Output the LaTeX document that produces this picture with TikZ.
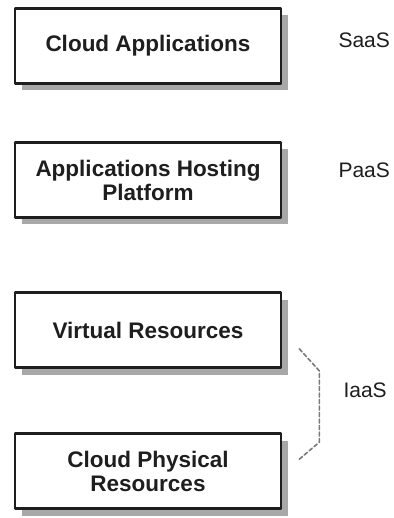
\documentclass[tikz,border=0pt]{standalone}
\usepackage{fontspec}
\setmainfont{Liberation Sans}
\usetikzlibrary{calc,positioning,shadows}
\definecolor{layerInk}{HTML}{1E1E1E}
\definecolor{layerShade}{HTML}{A8A8A8}
\definecolor{layerBrace}{HTML}{7A7A7A}

\begin{document}
\begin{tikzpicture}[x=1pt,y=-1pt,line cap=round,line join=round]
\path[fill=white] (0,0) rectangle (390,518);
\tikzset{layer/.style={draw=layerInk,fill=white,line width=2.6pt,minimum width=266pt,minimum height=75pt,align=center,text=layerInk,font=\fontsize{22.5}{24}\selectfont\bfseries,drop shadow={shadow xshift=7pt,shadow yshift=-7pt,fill=layerShade,opacity=1}},tier/.style={anchor=west,text=layerInk,font=\fontsize{21}{24}\selectfont},brace/.style={draw=layerBrace,line width=1.6pt,dash pattern=on 4pt off 2.5pt}}
\node[layer] (apps) at (148,46) {Cloud Applications};
\node[layer] (hosting) at (148,180) {Applications Hosting\\Platform};
\node[layer] (virt) at (148,330) {Virtual Resources};
\node[layer] (phys) at (148,471) {Cloud Physical\\Resources};
\node[tier] (saas) at (335,40) {SaaS};
\node[tier] (paas) at (335,170) {PaaS};
\node[tier] (iaas) at (340,390) {IaaS};
\draw[brace] ($(virt.south east)+(17,-20)$) -- ($(virt.south east)+(37,2)$) -- ($(phys.north east)+(37,10)$) -- ($(phys.north east)+(17,27)$);
\end{tikzpicture}
\end{document}
